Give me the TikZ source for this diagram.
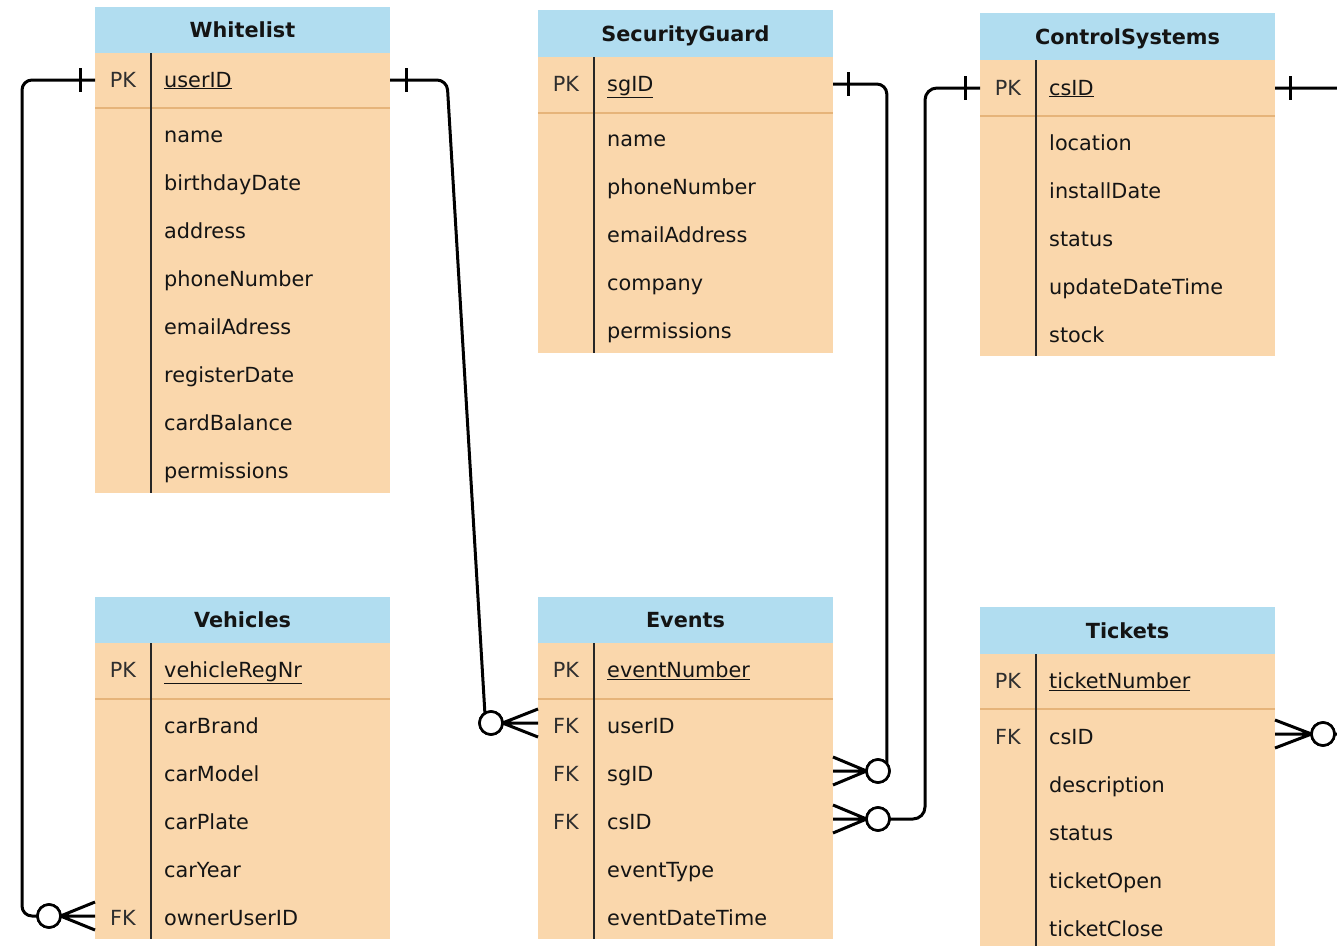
\documentclass[tikz,border=0pt]{standalone}
\usepackage{fontspec}
\setmainfont{DejaVu Sans}
\usetikzlibrary{calc}
\definecolor{hdrblue}{HTML}{B1DDF0}
\definecolor{bodyor}{HTML}{FAD7AC}
\definecolor{sepor}{HTML}{E6B47A}
\newcommand\ertab[7]{%
  \fill[hdrblue] (#2,#3) rectangle ({#2+295},#4);
  \fill[bodyor] (#2,#4) rectangle ({#2+295},#6);
  \node[hdrtext] (#1) at ({#2+147.5},{(#3+#4)/2+7.5}) {#7};
  \draw[sepline] (#2,#5) -- ({#2+295},#5);
  \draw[divline] ({#2+56},#4) -- ({#2+56},#6);
}
\newcommand\erow[5]{%
  \node[keytext] (#1k) at ({#2+28},{#3+7}) {#4};
  \node[fieldtext] (#1) at ({#2+69},{#3+7}) {#5};
}
\begin{document}
\begin{tikzpicture}[x=1pt,y=-1pt,
  font=\fontsize{20.8}{25}\selectfont,
  hdrtext/.style={font=\fontsize{20.8}{25}\selectfont\bfseries, anchor=base, inner sep=0, text=black!92},
  keytext/.style={anchor=base, inner sep=0, text=black!82},
  fieldtext/.style={anchor=base west, inner sep=0, text=black!92},
  sepline/.style={draw=sepor, line width=1.5pt},
  divline/.style={draw=black!85, line width=1.5pt},
  conn/.style={line width=3pt, line join=round, draw=black},
  zc/.style={circle, draw=black, line width=2.6pt, fill=white, minimum size=23pt, inner sep=0, outer sep=0}]
\useasboundingbox (0,0) rectangle (1337,945);
\clip (0,0) rectangle (1337,945);

% Whitelist
\ertab{wl}{95}{7}{53}{108}{493}{Whitelist}
\erow{wl1}{95}{80}{PK}{\underline{userID}}
\erow{wl2}{95}{135}{}{name}
\erow{wl3}{95}{183}{}{birthdayDate}
\erow{wl4}{95}{231}{}{address}
\erow{wl5}{95}{279}{}{phoneNumber}
\erow{wl6}{95}{327}{}{emailAdress}
\erow{wl7}{95}{375}{}{registerDate}
\erow{wl8}{95}{423}{}{cardBalance}
\erow{wl9}{95}{471}{}{permissions}

% SecurityGuard
\ertab{sg}{538}{10}{57}{113}{353}{SecurityGuard}
\erow{sg1}{538}{84}{PK}{\underline{sgID}}
\erow{sg2}{538}{139}{}{name}
\erow{sg3}{538}{187}{}{phoneNumber}
\erow{sg4}{538}{235}{}{emailAddress}
\erow{sg5}{538}{283}{}{company}
\erow{sg6}{538}{331}{}{permissions}

% ControlSystems
\ertab{cs}{980}{13}{60}{116}{356}{ControlSystems}
\erow{cs1}{980}{88}{PK}{\underline{csID}}
\erow{cs2}{980}{143}{}{location}
\erow{cs3}{980}{191}{}{installDate}
\erow{cs4}{980}{239}{}{status}
\erow{cs5}{980}{287}{}{updateDateTime}
\erow{cs6}{980}{335}{}{stock}

% Vehicles
\ertab{vh}{95}{597}{643}{699}{939}{Vehicles}
\erow{vh1}{95}{670}{PK}{\underline{vehicleRegNr}}
\erow{vh2}{95}{726}{}{carBrand}
\erow{vh3}{95}{774}{}{carModel}
\erow{vh4}{95}{822}{}{carPlate}
\erow{vh5}{95}{870}{}{carYear}
\erow{vh6}{95}{918}{FK}{ownerUserID}

% Events
\ertab{ev}{538}{597}{643}{699}{939}{Events}
\erow{ev1}{538}{670}{PK}{\underline{eventNumber}}
\erow{ev2}{538}{726}{FK}{userID}
\erow{ev3}{538}{774}{FK}{sgID}
\erow{ev4}{538}{822}{FK}{csID}
\erow{ev5}{538}{870}{}{eventType}
\erow{ev6}{538}{918}{}{eventDateTime}

% Tickets
\ertab{tk}{980}{607}{654}{709}{949}{Tickets}
\erow{tk1}{980}{681}{PK}{\underline{ticketNumber}}
\erow{tk2}{980}{737}{FK}{csID}
\erow{tk3}{980}{785}{}{description}
\erow{tk4}{980}{833}{}{status}
\erow{tk5}{980}{881}{}{ticketOpen}
\erow{tk6}{980}{929}{}{ticketClose}

% connection points
\coordinate (wlL) at (95,80);
\coordinate (wlR) at (390,80);
\coordinate (sgR) at (833,84);
\coordinate (csL) at (980,88);
\coordinate (csR) at (1275,88);
\coordinate (vhO) at (95,916);
\coordinate (evU) at (538,723);
\coordinate (evS) at (833,771);
\coordinate (evC) at (833,819);
\coordinate (tkC) at (1275,734);

% zero-or-many circles
\node[zc] (c1) at (49,916) {};
\node[zc] (c2) at (491,723) {};
\node[zc] (c3) at (878,771) {};
\node[zc] (c4) at (878,819) {};
\node[zc] (c5) at (1323,734) {};

% relationship lines
\draw[conn, rounded corners=10] (wlL) -- (22,80) -- (22,916) -- (c1.west);
\draw[conn, rounded corners=10] (wlR) -- (447,80) -- (c2.122);
\draw[conn, rounded corners=10] (sgR) -- (sgR -| c3.40) -- (c3.40);
\draw[conn, rounded corners=12] (csL) -- (925,88) -- (925,819) -- (c4.east);
\draw[conn, rounded corners=12] (csR) -- (1360,88) -- (1360,734) -- (c5.east);

% one marks
\draw[conn] ($(wlL)+(-15,-12)$) -- ($(wlL)+(-15,12)$);
\draw[conn] ($(wlR)+(16,-12)$) -- ($(wlR)+(16,12)$);
\draw[conn] ($(sgR)+(15,-12)$) -- ($(sgR)+(15,12)$);
\draw[conn] ($(csL)+(-15,-12)$) -- ($(csL)+(-15,12)$);
\draw[conn] ($(csR)+(15,-12)$) -- ($(csR)+(15,12)$);

% crow's feet
\draw[conn] ($(vhO)+(0,-14)$) -- (c1.east) -- ($(vhO)+(0,14)$) (c1.east) -- (vhO);
\draw[conn] ($(evU)+(0,-14)$) -- (c2.east) -- ($(evU)+(0,14)$) (c2.east) -- (evU);
\draw[conn] ($(evS)+(0,-14)$) -- (c3.west) -- ($(evS)+(0,14)$) (c3.west) -- (evS);
\draw[conn] ($(evC)+(0,-14)$) -- (c4.west) -- ($(evC)+(0,14)$) (c4.west) -- (evC);
\draw[conn] ($(tkC)+(0,-14)$) -- (c5.west) -- ($(tkC)+(0,14)$) (c5.west) -- (tkC);

% redraw circles on top
\node[zc] at (c1) {};
\node[zc] at (c2) {};
\node[zc] at (c3) {};
\node[zc] at (c4) {};
\node[zc] at (c5) {};
\end{tikzpicture}
\end{document}
